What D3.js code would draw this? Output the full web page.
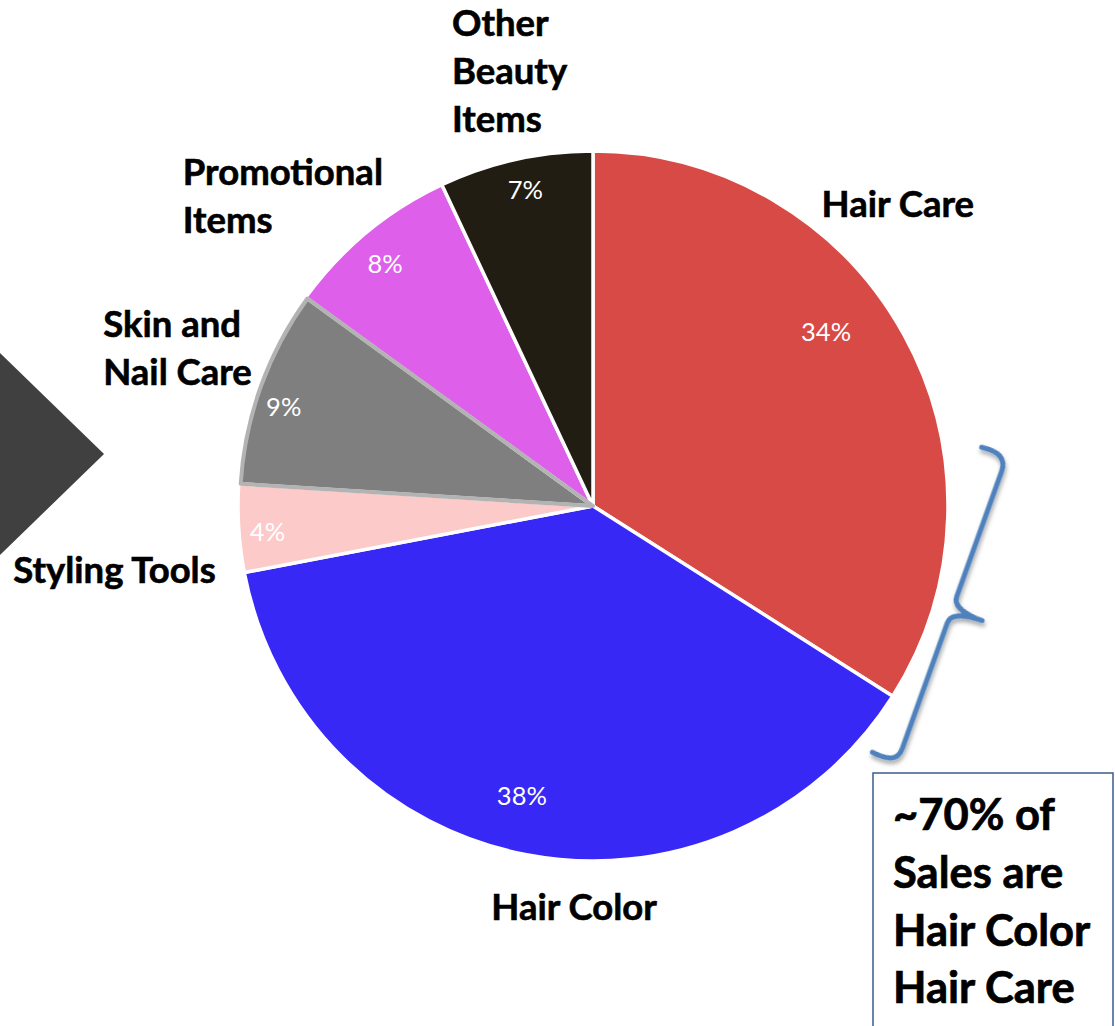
<!DOCTYPE html>
<html>
<head>
<meta charset="utf-8">
<script src="https://cdn.jsdelivr.net/npm/d3@7"></script>
<style>
  html, body { margin: 0; padding: 0; background: #ffffff; }
  svg { display: block; }
  text { font-family: Lato, "Open Sans", sans-serif; }
</style>
</head>
<body>
<svg id="chart" width="1115" height="1026"></svg>
<script>
// Sales mix by product category (share of sales, %)
const categories = ["Hair Care", "Hair Color", "Styling Tools", "Skin and Nail Care", "Promotional Items", "Other Beauty Items"];
const shares = [34, 38, 4, 9, 8, 7];
const labelLines = [["Hair Care"], ["Hair Color"], ["Styling Tools"], ["Skin and", "Nail Care"], ["Promotional", "Items"], ["Other", "Beauty", "Items"]];
const sliceColors = ["#d84a46", "#3728f5", "#fdcaca", "#7f7f7f", "#de5fea", "#211d13"];
const calloutLines = ["~70% of", "Sales are", "Hair Color", "Hair Care"];

const W = 1115, H = 1026;
const cx = 593, cy = 506, radius = 355;

const svg = d3.select("#chart");

// drop shadow for the brace
const defs = svg.append("defs");
const shadow = defs.append("filter").attr("id", "braceShadow")
  .attr("x", "-20%").attr("y", "-20%").attr("width", "140%").attr("height", "140%");
shadow.append("feDropShadow").attr("dx", 2).attr("dy", 3).attr("stdDeviation", 2)
  .attr("flood-color", "#000").attr("flood-opacity", 0.35);

// dark pointer shape at the left edge
const pointer = d3.path();
pointer.moveTo(0, cy - 153);
pointer.lineTo(104, cy - 52);
pointer.lineTo(0, cy + 49);
pointer.closePath();
svg.append("path").attr("d", pointer.toString()).attr("fill", "#404040");

// pie
const pie = d3.pie().value(d => d).sort(null);
const arcs = pie(shares);
const arc = d3.arc().innerRadius(0).outerRadius(radius);

const g = svg.append("g").attr("transform", `translate(${cx},${cy})`);

g.selectAll("path.slice")
  .data(arcs)
  .join("path")
  .attr("class", "slice")
  .attr("d", arc)
  .attr("fill", (d, i) => sliceColors[i])
  .attr("stroke", "#ffffff")
  .attr("stroke-width", 3.5)
  .attr("stroke-linejoin", "round");

// beveled rim on the Skin and Nail Care slice
const rimArc = d3.arc().innerRadius(0).outerRadius(radius - 2);
g.append("path")
  .attr("d", rimArc(arcs[3]))
  .attr("fill", "none")
  .attr("stroke", "#b3b3b3")
  .attr("stroke-width", 4)
  .attr("stroke-linejoin", "round");

// percentage labels inside the slices
const pctPlace = [
  { k: 0.82, nudge: -8 },
  { k: 0.84, nudge: 3 },
  { k: 0.92, nudge: -1 },
  { k: 0.915, nudge: -2 },
  { k: 0.90, nudge: -1 },
  { k: 0.91, nudge: 0.5 }
];
const toXY = (angDeg, dist) => {
  const a = angDeg * Math.PI / 180;
  return [dist * Math.sin(a), -dist * Math.cos(a)];
};
g.selectAll("text.pct")
  .data(arcs)
  .join("text")
  .attr("class", "pct")
  .attr("transform", (d, i) => {
    const mid = (d.startAngle + d.endAngle) / 2 * 180 / Math.PI + pctPlace[i].nudge;
    const [x, y] = toXY(mid, radius * pctPlace[i].k);
    return `translate(${x},${y})`;
  })
  .attr("text-anchor", "middle")
  .attr("dy", "0.36em")
  .attr("fill", "#ffffff")
  .attr("font-size", 25.5)
  .text(d => d.data + "%");

// category labels outside the pie (box centre given in polar terms)
const catPlace = [
  { ang: 45.3, dist: 1.208 },
  { ang: 182.7, dist: 1.131 },
  { ang: 262.4, dist: 1.36 },
  { ang: 290.8, dist: 1.252 },
  { ang: 315.0, dist: 1.236 },
  { ang: 349.1, dist: 1.246 }
];
const catFont = 36.5, catLine = 48;
labelLines.forEach((lines, i) => {
  const [bx, by] = toXY(catPlace[i].ang, radius * catPlace[i].dist);
  const t = g.append("text")
    .attr("font-size", catFont)
    .attr("font-weight", 700)
    .attr("fill", "#000000")
    .attr("stroke", "#000000")
    .attr("stroke-width", 0.6);
  lines.forEach(ln => t.append("tspan").text(ln));
  // left-align lines inside a box centred on the anchor
  const spans = t.selectAll("tspan").nodes();
  const maxW = Math.max(...spans.map(s => s.getComputedTextLength()));
  const top = by - (lines.length - 1) * catLine / 2;
  spans.forEach((s, j) => {
    d3.select(s)
      .attr("x", bx - maxW / 2)
      .attr("y", top + j * catLine + 0.35 * catFont);
  });
});

// curly brace spanning the Hair Care / Hair Color edge
const braceLen = 314, braceTip = 32, braceHook = 27;
const bp = d3.path();
const m = braceLen / 2;
bp.moveTo(-braceHook, -6);
bp.bezierCurveTo(-10, -8, 0, -4, 0, 10);
bp.lineTo(0, m - 14);
bp.bezierCurveTo(0, m - 4, 14, m, braceTip, m);
bp.bezierCurveTo(14, m, 0, m + 4, 0, m + 14);
bp.lineTo(0, braceLen - 10);
bp.bezierCurveTo(0, braceLen + 4, -10, braceLen + 6, -braceHook, braceLen + 4);
const braceAngle = Math.atan2(105, 293) * 180 / Math.PI;
svg.append("path")
  .attr("d", bp.toString())
  .attr("transform", `translate(${cx + 412},${cy - 44}) rotate(${braceAngle})`)
  .attr("fill", "none")
  .attr("stroke", "#4f81bd")
  .attr("stroke-width", 5)
  .attr("stroke-linecap", "round")
  .attr("stroke-linejoin", "round")
  .attr("filter", "url(#braceShadow)");

// callout box
const boxX = 873, boxY = 773;
svg.append("rect")
  .attr("x", boxX).attr("y", boxY)
  .attr("width", W - 2 - boxX).attr("height", H + 20 - boxY)
  .attr("fill", "#ffffff")
  .attr("stroke", "#385d8a")
  .attr("stroke-width", 1.5);
const callFont = 43.5, callLine = 57.7;
const callText = svg.append("text")
  .attr("font-size", callFont)
  .attr("font-weight", 700)
  .attr("fill", "#000000")
  .attr("stroke", "#000000")
  .attr("stroke-width", 0.7);
calloutLines.forEach((ln, j) => {
  callText.append("tspan")
    .attr("x", boxX + 20)
    .attr("y", boxY + 42 + j * callLine + 0.35 * callFont)
    .text(ln);
});
</script>
</body>
</html>
